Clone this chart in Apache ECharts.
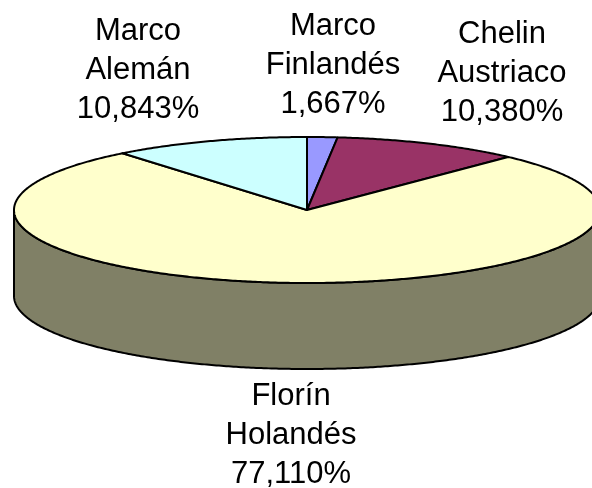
<!DOCTYPE html>
<html>
<head>
<meta charset="utf-8">
<script src="https://cdn.jsdelivr.net/npm/echarts@6/dist/echarts.min.js"></script>
<style>html,body{margin:0;padding:0;background:#fff}#chart{width:592px;height:488px}</style>
</head>
<body>
<div id="chart"></div>
<script>
// ---- data ----
const categories = ['Marco Finlandés', 'Chelin Austriaco', 'Florín Holandés', 'Marco Alemán'];
const labelLines = [['Marco', 'Finlandés'], ['Chelin', 'Austriaco'], ['Florín', 'Holandés'], ['Marco', 'Alemán']];
const values = [1.667, 10.380, 77.110, 10.843];
const colors = ['#9999FF', '#993366', '#FFFFCC', '#CCFFFF'];
const sideColors = ['#4D4D80', '#4D1A33', '#808066', '#668080'];

// ---- layout ----
const CX = 307, CY = 210, RX = 293, RY = 73, DEPTH = 86;
const FONT = 31, LINE_GAP = 39;
const labelPos = [[333, 26], [502, 34], [291, 396], [138, 31]];

const total = values.reduce((a, b) => a + b, 0);
const starts = [];
let acc = 0;
values.forEach(v => { starts.push(acc / total * 360); acc += v; });

function pt(deg, dy) {
  const r = deg * Math.PI / 180;
  return [CX + RX * Math.sin(r), CY - RY * Math.cos(r) + (dy || 0)];
}
function arc(a, b, dy) {
  const pts = [];
  const n = Math.max(2, Math.ceil(Math.abs(b - a) / 0.5));
  for (let i = 0; i <= n; i++) pts.push(pt(a + (b - a) * i / n, dy));
  return pts;
}

const chart = echarts.init(document.getElementById('chart'), null, {renderer: 'canvas'});
chart.setOption({
  animation: false,
  series: [{
    type: 'custom',
    coordinateSystem: 'none',
    data: values.map((v, i) => ({name: categories[i], value: v})),
    renderItem: function (params, api) {
      const i = params.dataIndex;
      const a = starts[i];
      const b = a + values[i] / total * 360;
      const children = [];
      // visible side wall (front half: 90..270 degrees)
      const sa = Math.max(a, 90), sb = Math.min(b, 270);
      if (sb > sa) {
        const topArc = arc(sa, sb, 0);
        const botArc = arc(sa, sb, DEPTH).reverse();
        children.push({
          type: 'polygon',
          shape: {points: topArc.concat(botArc)},
          style: {fill: sideColors[i], stroke: '#000', lineWidth: 2, lineJoin: 'round'}
        });
      }
      // top face
      children.push({
        type: 'polygon',
        shape: {points: [[CX, CY]].concat(arc(a, b, 0))},
        style: {fill: colors[i], stroke: '#000', lineWidth: 2, lineJoin: 'round'}
      });
      // label
      const pct = (values[i] / total * 100).toFixed(3).replace('.', ',') + '%';
      const lines = labelLines[i].concat([pct]);
      lines.forEach((t, k) => {
        children.push({
          type: 'text',
          style: {
            text: t, x: labelPos[i][0], y: labelPos[i][1] + k * LINE_GAP,
            align: 'center', verticalAlign: 'middle',
            font: FONT + 'px "Liberation Sans", Arial, sans-serif', fill: '#000'
          }
        });
      });
      return {type: 'group', children: children};
    }
  }]
});
</script>
</body>
</html>
